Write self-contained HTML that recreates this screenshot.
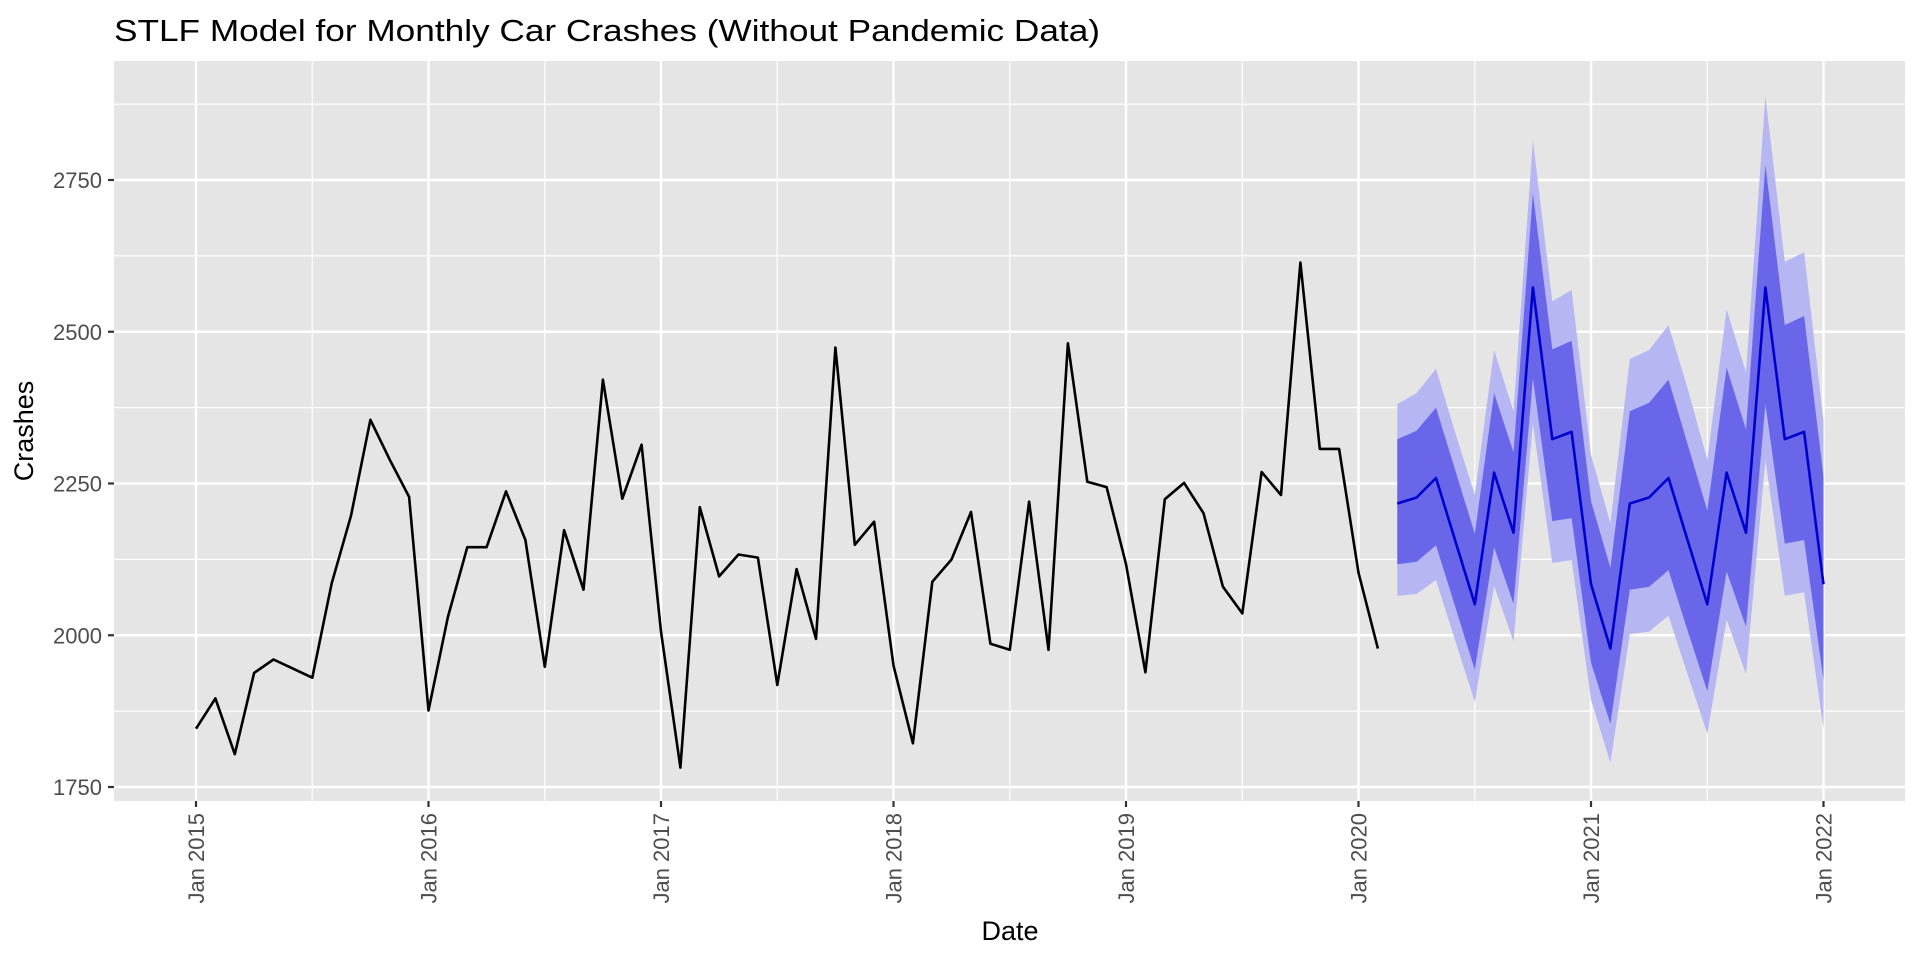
<!DOCTYPE html>
<html><head><meta charset="utf-8">
<style>
html,body{margin:0;padding:0;background:#fff;}
svg{display:block;font-family:"Liberation Sans",Arial,sans-serif;}
</style></head>
<body>
<svg id="chart" width="1920" height="960" viewBox="0 0 1920 960">
  <text x="114" y="41" font-size="31" fill="#000" textLength="986" lengthAdjust="spacingAndGlyphs">STLF Model for Monthly Car Crashes (Without Pandemic Data)</text>
  <rect x="114" y="61" width="1791" height="740" fill="#e5e5e5"/>
  <g id="grid"></g>
  <g id="bands"></g>
  <g id="lines"></g>
  <g id="axes"></g>
  <text x="1010" y="940" font-size="27" text-anchor="middle" fill="#000">Date</text>
  <text transform="translate(33,431) rotate(-90)" font-size="27" text-anchor="middle" fill="#000">Crashes</text>
</svg>
<script>
const histValues = [1846,1896,1804,1938,1960,1945,1930,2085,2197,2355,2289,2228,
 1876,2030,2145,2145,2237,2157,1948,2173,2075,2421,2225,2314,
 2006,1782,2211,2097,2133,2128,1918,2109,1994,2474,2149,2187,
 1950,1822,2088,2125,2203,1986,1976,2220,1976,2481,2253,2244,
 2117,1939,2224,2251,2201,2080,2036,2269,2231,2614,2307,2307,
 2103,1978];
const fcMean = [2217,2227,2259,2155,2051,2268,2169,2573,2323,2335,2084,1978,2217,2227,2259,2155,2051,2268,2169,2573,2323,2335,2084];
const fcHi80 = [2323,2337,2375,2271,2167,2399,2301,2728,2471,2485,2221,2111,2369,2383,2421,2313,2205,2441,2339,2775,2511,2526,2261];
const fcLo80 = [2117,2121,2148,2046,1943,2145,2052,2423,2188,2193,1955,1854,2075,2080,2107,2006,1908,2105,2014,2381,2151,2157,1926];
const fcHi95 = [2381,2399,2439,2333,2231,2470,2369,2815,2550,2569,2297,2185,2455,2470,2511,2405,2289,2537,2433,2888,2615,2631,2353];
const fcLo95 = [2065,2068,2091,1990,1890,2081,1990,2349,2119,2124,1894,1790,2002,2006,2032,1934,1838,2026,1936,2289,2065,2071,1846];
const yTicks = [1750,2000,2250,2500,2750];
const xTickLabels = ["Jan 2015","Jan 2016","Jan 2017","Jan 2018","Jan 2019","Jan 2020","Jan 2021","Jan 2022"];
const histStartMonth = 0;   // Jan 2015
const fcStartMonth = 62;    // Mar 2020

const NS="http://www.w3.org/2000/svg";
const PL=114, PR=1905, PT=61, PB=801;
function xScale(m){ return 196 + m*(232.5/12); }
function yScale(v){ return 787 - (v-1750)*(607/1000); }
function mk(tag, attrs, parent){ const e=document.createElementNS(NS,tag); for(const k in attrs) e.setAttribute(k,attrs[k]); parent.appendChild(e); return e; }

const grid=document.getElementById('grid');
for(let i=0;i<yTicks.length+1;i++){
  const v=1625+i*250; const y=yScale(v);
  if(y<PT||y>PB) continue;
  const l=mk('line',{x1:PL,x2:PR,y1:y,y2:y,stroke:'#fff','stroke-width':1.2},grid);
  
  
}
for(let i=-1;i<xTickLabels.length;i++){
  const x=xScale(i*12+6); if(x<PL||x>PR) continue;
  const l=mk('line',{x1:x,x2:x,y1:PT,y2:PB,stroke:'#fff','stroke-width':1.2},grid);
  
  
}
yTicks.forEach(v=>{
  const y=yScale(v);
  const l=mk('line',{x1:PL,x2:PR,y1:y,y2:y,stroke:'#fff','stroke-width':2.4},grid);
  
  
});
xTickLabels.forEach((t,i)=>{
  const x=xScale(i*12);
  const l=mk('line',{x1:x,x2:x,y1:PT,y2:PB,stroke:'#fff','stroke-width':2.4},grid);
  
  
});

const bands=document.getElementById('bands');
function bandPath(hi,lo){
  let d='';
  hi.forEach((v,i)=>{ d+=(i?'L':'M')+xScale(fcStartMonth+i).toFixed(1)+','+yScale(v).toFixed(1); });
  for(let i=lo.length-1;i>=0;i--) d+='L'+xScale(fcStartMonth+i).toFixed(1)+','+yScale(lo[i]).toFixed(1);
  return d+'Z';
}
const b95=mk('path',{d:bandPath(fcHi95,fcLo95),fill:'#b6b6f3'},bands);


const b80=mk('path',{d:bandPath(fcHi80,fcLo80),fill:'#6a66e9'},bands);



const lines=document.getElementById('lines');
function linePts(vals,start){ return vals.map((v,i)=>xScale(start+i).toFixed(1)+','+yScale(v).toFixed(1)).join(' '); }
const h=mk('polyline',{points:linePts(histValues,histStartMonth),fill:'none',stroke:'#000','stroke-width':2.6,'stroke-linejoin':'round'},lines);


const f=mk('polyline',{points:linePts(fcMean,fcStartMonth),fill:'none',stroke:'#0000cc','stroke-width':2.6,'stroke-linejoin':'round'},lines);



const axes=document.getElementById('axes');
yTicks.forEach(v=>{
  const y=yScale(v);
  const t=mk('line',{x1:108,x2:114,y1:y,y2:y,stroke:'#333','stroke-width':2.2},axes);
  
  
  const tx=mk('text',{x:102,y:y+8,'font-size':22,'text-anchor':'end',fill:'#4d4d4d'},axes);
  tx.textContent=v;
  
  
});
xTickLabels.forEach((lab,i)=>{
  const x=xScale(i*12);
  const t=mk('line',{x1:x,x2:x,y1:801,y2:807,stroke:'#333','stroke-width':2.2},axes);
  
  
  const tx=mk('text',{transform:`translate(${x+8},813) rotate(-90)`,'font-size':22,'text-anchor':'end',fill:'#4d4d4d'},axes);
  tx.textContent=lab;
  
  
});
</script>
</body></html>
